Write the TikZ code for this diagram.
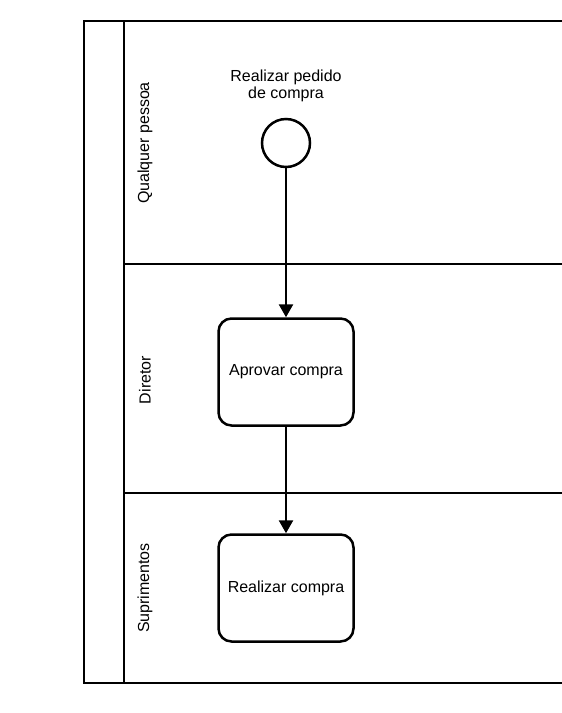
\documentclass[tikz,border=0pt]{standalone}
\usepackage{fontspec}
\setmainfont{Liberation Sans}
\usetikzlibrary{arrows.meta}
\usetikzlibrary{positioning}

\begin{document}
\begin{tikzpicture}[x=1pt,y=-1pt,line width=2.5pt,
    font=\fontsize{16}{17.5}\selectfont,
    task/.style={draw,rounded corners=13pt,minimum width=135pt,minimum height=107pt,fill=white,inner sep=0pt},
    lanename/.style={rotate=90,anchor=center}]
            \useasboundingbox (0,0) rectangle (562,713);
            % pool and lanes
            \draw (570,21) -- (84,21) -- (84,683) -- (570,683);
            \draw (124,21) -- (124,683);
            \draw (124,264) -- (570,264);
            \draw (124,493) -- (570,493);
            \node[lanename] (qualquer) at (145,143) {Qualquer pessoa};
            \node[lanename] (diretor) at (145,380) {Diretor};
            \node[lanename] (suprim) at (145,588) {Suprimentos};
            % process
            \node[circle,draw,fill=white,minimum size=48pt,inner sep=0pt] (inicio) at (286,143) {};
            \node[align=center] (pedido) at (286,86) {Realizar pedido\\de compra};
            \node[task] (aprovar) at (286,372) {Aprovar compra};
            \node[task] (realizar) at (286,588) {Realizar compra};
            \draw [-{Triangle[length=13pt,width=14pt]}] (inicio) -- (aprovar);
            \draw [-{Triangle[length=13pt,width=14pt]}] (aprovar) -- (realizar);
          \end{tikzpicture}
\end{document}
